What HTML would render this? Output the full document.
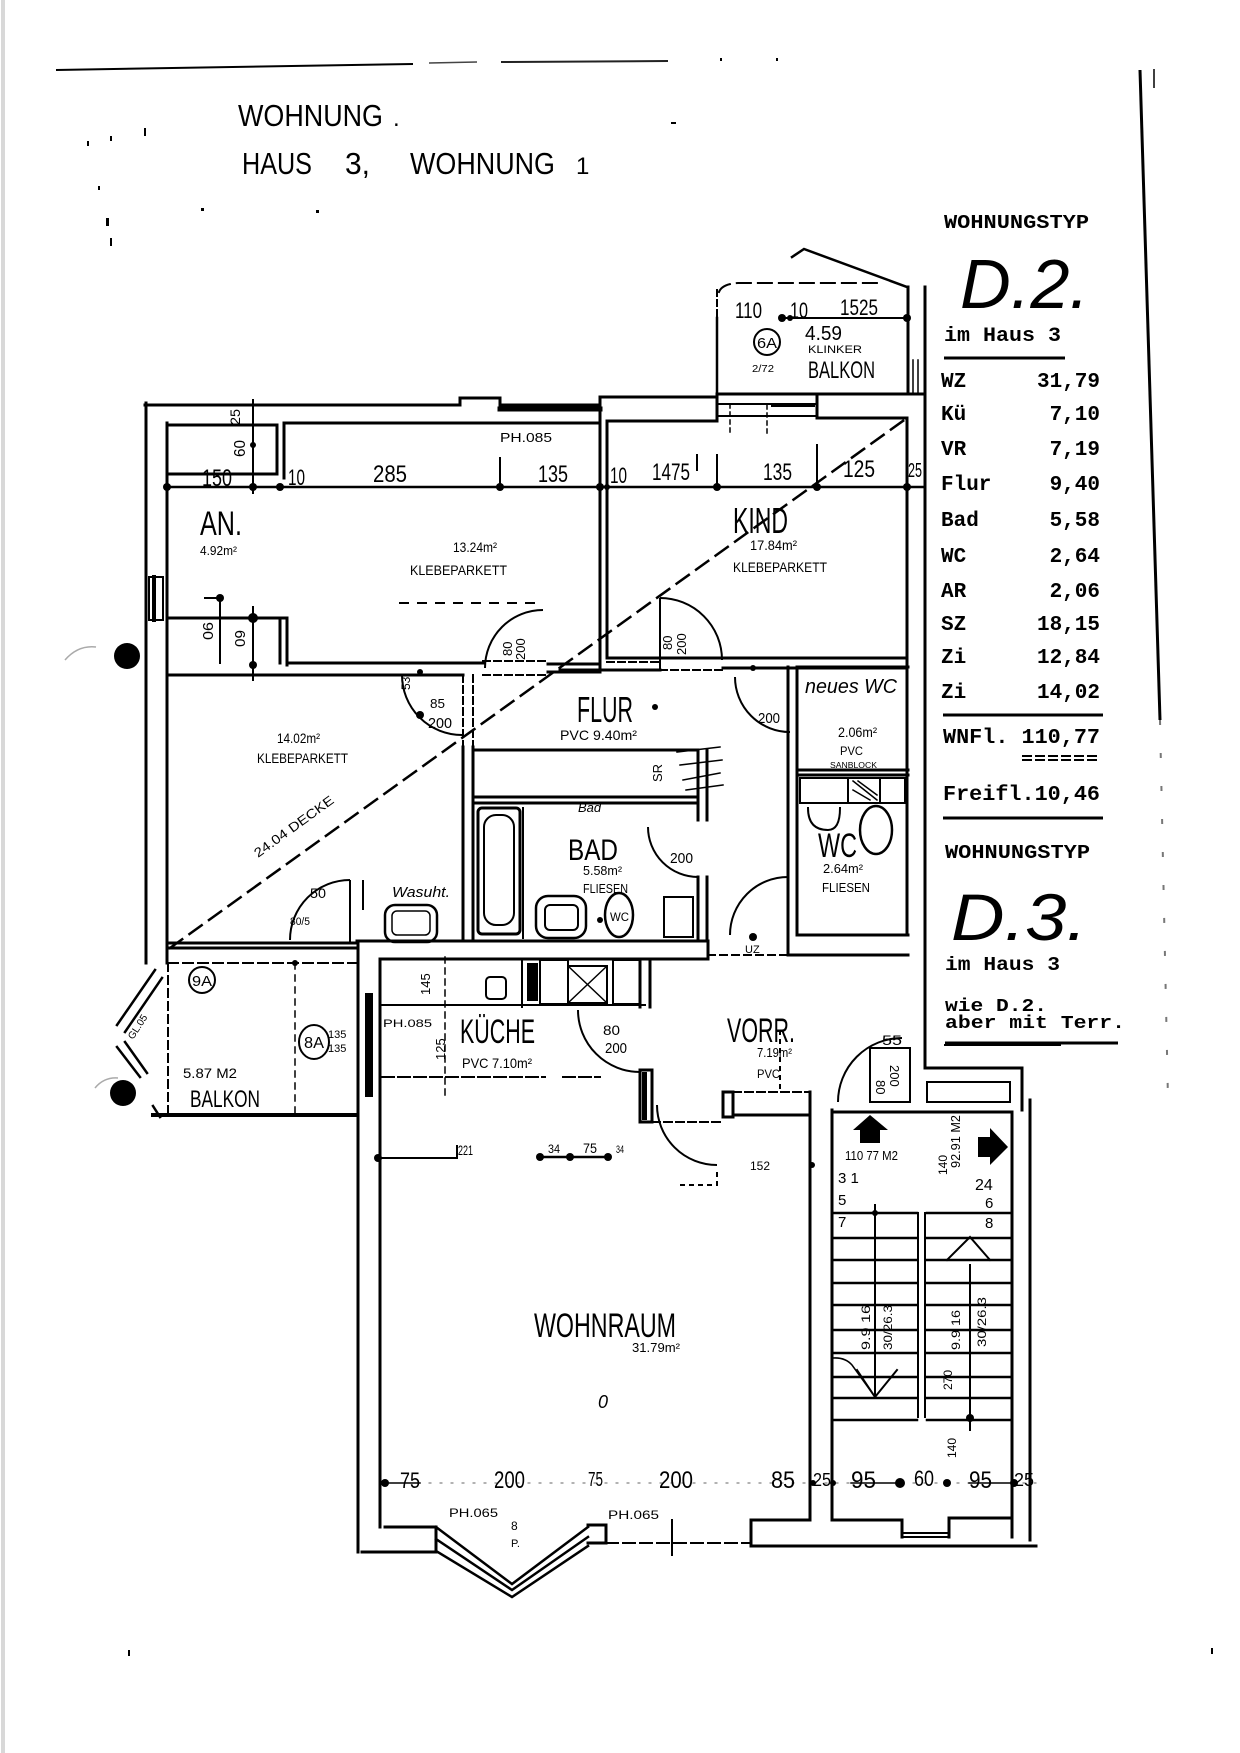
<!DOCTYPE html>
<html><head><meta charset="utf-8"><style>
html,body{margin:0;padding:0;background:#fff;}
svg{display:block}
text{font-family:"Liberation Sans",sans-serif;fill:#000;stroke:none}
.m{font-family:"Liberation Mono",monospace;font-weight:bold}
.hw{font-family:"Liberation Sans",sans-serif;font-weight:normal}
</style></head><body>
<svg width="1240" height="1753" viewBox="0 0 1240 1753" xmlns="http://www.w3.org/2000/svg">
<rect width="1240" height="1753" fill="#fff"/>

<!-- scan artifacts -->
<path d="M3 0 V1753" stroke="#d8d8d8" stroke-width="4"/>
<path d="M65 660 Q78 645 96 647" stroke="#aaa" stroke-width="1.5" fill="none"/>
<path d="M95 1088 Q104 1077 118 1078" stroke="#aaa" stroke-width="1.5" fill="none"/>
<g fill="#000">
<rect x="87" y="141" width="2" height="5"/><rect x="110" y="136" width="2" height="5"/><rect x="144" y="128" width="2" height="8"/>
<rect x="98" y="186" width="2" height="4"/><rect x="201" y="208" width="3" height="3"/><rect x="316" y="210" width="3" height="3"/>
<rect x="106" y="218" width="3" height="8"/><rect x="110" y="238" width="2" height="8"/><rect x="128" y="1650" width="2" height="6"/>
<rect x="1211" y="1648" width="2" height="6"/><rect x="671" y="122" width="5" height="2"/><rect x="720" y="58" width="2" height="3"/><rect x="776" y="58" width="2" height="3"/>
</g>

<!-- header -->
<path d="M56 70 L413 64" stroke="#000" stroke-width="2"/>
<path d="M429 63 L477 62" stroke="#444" stroke-width="1.5"/>
<path d="M501 62 L668 61" stroke="#222" stroke-width="2"/>
<text x="238" y="126" font-size="31" textLength="145" lengthAdjust="spacingAndGlyphs" class="hw">WOHNUNG</text>
<text x="393" y="126" font-size="24">.</text>
<text x="242" y="174" font-size="31" textLength="70" lengthAdjust="spacingAndGlyphs">HAUS</text>
<text x="345" y="174" font-size="31" textLength="25" lengthAdjust="spacingAndGlyphs">3,</text>
<text x="410" y="174" font-size="31" textLength="145" lengthAdjust="spacingAndGlyphs">WOHNUNG</text>
<text x="576" y="174" font-size="24">1</text>

<!-- right column vertical line -->
<path d="M1140 70 L1160 720" stroke="#000" stroke-width="3"/>
<path d="M1154 69 V88" stroke="#000" stroke-width="1.5"/>
<path d="M1160 720 L1168 1100" stroke="#777" stroke-width="2" stroke-dasharray="5 28"/>

<!-- right table -->
<text class="m" x="944" y="228" font-size="19" textLength="145" lengthAdjust="spacingAndGlyphs">WOHNUNGSTYP</text>
<text x="960" y="308" font-size="70" font-style="italic" textLength="129" lengthAdjust="spacingAndGlyphs">D.2.</text>
<text class="m" x="944" y="341" font-size="20" textLength="117" lengthAdjust="spacingAndGlyphs">im Haus 3</text>
<path d="M944 358 H1065" stroke="#000" stroke-width="3"/>
<g class="m" font-size="21">
<text class="m" x="941" y="387">WZ</text><text class="m" x="1100" y="387" text-anchor="end">31,79</text>
<text class="m" x="941" y="420">Kü</text><text class="m" x="1100" y="420" text-anchor="end">7,10</text>
<text class="m" x="941" y="455">VR</text><text class="m" x="1100" y="455" text-anchor="end">7,19</text>
<text class="m" x="941" y="490">Flur</text><text class="m" x="1100" y="490" text-anchor="end">9,40</text>
<text class="m" x="941" y="526">Bad</text><text class="m" x="1100" y="526" text-anchor="end">5,58</text>
<text class="m" x="941" y="562">WC</text><text class="m" x="1100" y="562" text-anchor="end">2,64</text>
<text class="m" x="941" y="597">AR</text><text class="m" x="1100" y="597" text-anchor="end">2,06</text>
<text class="m" x="941" y="630">SZ</text><text class="m" x="1100" y="630" text-anchor="end">18,15</text>
<text class="m" x="941" y="663">Zi</text><text class="m" x="1100" y="663" text-anchor="end">12,84</text>
<text class="m" x="941" y="698">Zi</text><text class="m" x="1100" y="698" text-anchor="end">14,02</text>
</g>
<path d="M943 715 H1103" stroke="#000" stroke-width="3"/>
<text class="m" x="943" y="743" font-size="21" textLength="157" lengthAdjust="spacingAndGlyphs">WNFl. 110,77</text>
<path d="M1022 756 H1100 M1022 760 H1100" stroke="#000" stroke-width="2" stroke-dasharray="10 3"/>
<text class="m" x="943" y="800" font-size="21" textLength="157" lengthAdjust="spacingAndGlyphs">Freifl.10,46</text>
<path d="M943 818 H1103" stroke="#000" stroke-width="3"/>
<text class="m" x="945" y="858" font-size="19" textLength="145" lengthAdjust="spacingAndGlyphs">WOHNUNGSTYP</text>
<text x="951" y="940" font-size="66" font-style="italic" textLength="136" lengthAdjust="spacingAndGlyphs">D.3.</text>
<text class="m" x="945" y="970" font-size="19" textLength="115" lengthAdjust="spacingAndGlyphs">im Haus 3</text>
<text class="m" x="945" y="1011" font-size="18" textLength="102" lengthAdjust="spacingAndGlyphs">wie D.2.</text>
<text class="m" x="945" y="1028" font-size="18" textLength="180" lengthAdjust="spacingAndGlyphs">aber mit Terr.</text>
<path d="M945 1043 H1118" stroke="#000" stroke-width="3"/>

<!-- ===== PLAN WALLS ===== -->
<g stroke="#000" fill="none" stroke-width="3" stroke-linecap="square">
<path d="M146 403 V963"/>
<path d="M167 423 V963"/>
<path d="M145 405 H460 V398 H500 V405 H600"/>
<path d="M500 409 H600" stroke-width="5"/>
<path d="M600 397 H717 V421 H607"/>
<path d="M600 397 V670"/>
<path d="M607 421 V658"/>
<path d="M167 425 H277 V474 H167"/>
<path d="M284 423 V478"/>
<path d="M284 423 H600"/>
<path d="M165 487 H923" stroke-width="2.5"/>
<path d="M253 400 V493 M500 458 V487 M717 455 V487 M817 445 V487 M697 455 V470" stroke-width="2"/>
<rect x="149" y="577" width="14" height="43" stroke-width="2"/>
<path d="M154 577 V620" stroke-width="4"/>
<path d="M167 618 H287 V665"/>
<path d="M280 618 V663"/>
<path d="M220 598 V663 M253 607 V680" stroke-width="2"/>
<path d="M205 598 H220" stroke-width="2"/>
<path d="M287 663 H483"/>
<path d="M168 675 H463"/>
<path d="M483 661 H548 M483 675 H548" stroke-width="2" stroke-dasharray="7 4"/>
<path d="M548 664 H600 M548 672 H600"/>
<path d="M607 658 H907"/>
<path d="M560 670 H660"/>
<path d="M723 668 H907"/>
<path d="M660 670 H723 M607 662 H660" stroke-width="2" stroke-dasharray="7 4"/>
<path d="M908 287 V394"/>
<path d="M907 418 V935"/>
<path d="M925 287 V1068"/>
<path d="M913 360 V392 M918 360 V392" stroke-width="1.5"/>
<path d="M717 318 V393" stroke-width="2.5"/>
<path d="M717 290 V316" stroke-width="2" stroke-dasharray="6 4"/>
<path d="M717 394 H923"/>
<path d="M719 292 Q722 284 738 283 H880" stroke-width="2" stroke-dasharray="14 7"/>
<path d="M792 257 L804 249 L907 287" stroke-width="2.5"/>
<path d="M782 318 H907" stroke-width="2"/>
<path d="M717 404 H817 M717 416 H817" stroke-width="2"/>
<path d="M773 405 H813" stroke-width="4"/>
<path d="M730 404 V433 M767 405 V433" stroke-width="1.5" stroke-dasharray="4 4"/>
<path d="M817 394 V418 H907"/>
<path d="M463 675 V747 M473 675 V747" stroke-width="2" stroke-dasharray="7 4"/>
<path d="M463 747 V941"/>
<path d="M473 747 V940"/>
<path d="M473 750 H698 M473 797 H698"/>
<path d="M698 750 V820 M707 750 V820 M698 877 V941 M707 877 V941"/>
<path d="M473 803 H698"/>
<path d="M357 941 H708"/>
<path d="M380 959 H708"/>
<path d="M708 941 V959"/>
<path d="M708 955 H788" stroke-width="2" stroke-dasharray="7 5"/>
<rect x="478" y="808" width="42" height="126" rx="4"/>
<rect x="484" y="815" width="30" height="110" rx="12" stroke-width="2"/>
<path d="M523 808 V938" stroke-width="2"/>
<rect x="536" y="896" width="50" height="42" rx="12" stroke-width="2.5"/>
<rect x="545" y="905" width="33" height="25" rx="5" stroke-width="2"/>
<ellipse cx="619" cy="915" rx="14" ry="22" stroke-width="2.5"/>
<rect x="664" y="897" width="29" height="40" stroke-width="2"/>
<path d="M677 752 L720 747 M680 765 L722 760 M683 780 L720 773 M686 790 L723 785" stroke-width="1.5"/>
<path d="M788 667 V955"/>
<path d="M797 667 V935"/>
<path d="M797 667 H908 M797 770 H908 M797 775 H908 M797 935 H908"/>
<path d="M788 955 H908"/>
<rect x="800" y="778" width="105" height="25" stroke-width="2"/>
<path d="M848 778 V803 M880 778 V803" stroke-width="2"/>
<path d="M853 781 L877 800 M858 781 L877 795 M853 790 L870 800" stroke-width="1.5"/>
<ellipse cx="876" cy="830" rx="16" ry="24" stroke-width="2.5"/>
<path d="M808 808 Q808 830 828 830 Q840 830 840 808" stroke-width="2"/>
<path d="M170 943 H357 M170 948 H357"/>
<path d="M168 963 V1113" stroke-width="2" stroke-dasharray="8 5"/>
<path d="M168 963 H357" stroke-width="2" stroke-dasharray="10 5"/>
<path d="M295 963 V1113" stroke-width="1.5" stroke-dasharray="6 6"/>
<path d="M153 1115 H357" stroke-width="4"/>
<path d="M153 1106 L160 1117" stroke-width="2.5"/>
<path d="M117 1025 L155 970 M125 1032 L162 978" stroke-width="2.5"/>
<path d="M117 1047 L140 1077 M125 1042 L147 1073" stroke-width="2.5"/>
<rect x="385" y="905" width="52" height="37" rx="10" stroke-width="2.5"/>
<rect x="392" y="911" width="38" height="24" rx="5" stroke-width="1.5"/>
<path d="M358 942 V1552"/>
<path d="M380 959 V1527"/>
<path d="M380 959 H645"/>
<path d="M380 1005 H645" stroke-width="2"/>
<path d="M640 959 V1007 M650 959 V1007"/>
<rect x="640" y="1070" width="12" height="52"/>
<path d="M382 1077 H545 M563 1077 H600" stroke-width="2" stroke-dasharray="12 4"/>
<path d="M445 957 V1097" stroke-width="1.5" stroke-dasharray="6 5"/>
<rect x="486" y="977" width="20" height="22" rx="4" stroke-width="2"/>
<path d="M522 960 V1007" stroke-width="2"/>
<rect x="540" y="960" width="28" height="44" stroke-width="2"/>
<rect x="568" y="966" width="39" height="37" stroke-width="2"/>
<path d="M568 966 L607 1003 M607 966 L568 1003" stroke-width="1.5"/>
<rect x="613" y="960" width="27" height="44" stroke-width="2"/>
<path d="M733 1092 H810" stroke-width="2" stroke-dasharray="8 4"/>
<path d="M733 1115 H810"/>
<rect x="723" y="1092" width="10" height="25"/>
<path d="M640 1122 H723" stroke-width="2" stroke-dasharray="8 4"/>
<path d="M810 1092 V1520"/>
<path d="M832 1110 V1520"/>
<path d="M832 1112 H1012"/>
<path d="M925 1068 H1022 V1110"/>
<rect x="927" y="1082" width="83" height="20" stroke-width="2"/>
<path d="M945 1045 H1060" stroke-width="2"/>
<path d="M1012 1112 V1537"/>
<path d="M1030 1100 V1540"/>
<path d="M833 1213 H917 M833 1238 H917 M833 1260 H917 M833 1283 H917 M833 1305 H917 M833 1330 H917 M833 1353 H917 M833 1377 H917 M833 1398 H917 M833 1420 H917" stroke-width="2.5"/>
<path d="M927 1213 H1010 M927 1238 H1010 M927 1260 H1010 M927 1283 H1010 M927 1305 H1010 M927 1330 H1010 M927 1353 H1010 M927 1377 H1010 M927 1398 H1010 M927 1420 H1010" stroke-width="2.5"/>
<path d="M918 1213 V1417 M925 1213 V1417" stroke-width="2"/>
<path d="M875 1205 V1395 M970 1265 V1430" stroke-width="2"/>
<path d="M857 1370 L875 1397 L897 1370 M947 1260 L970 1237 L990 1260" stroke-width="2"/>
<path d="M833 1358 Q845 1357 852 1365 L875 1397" stroke-width="1.5"/>
<path d="M385 1527 H436"/>
<path d="M362 1552 H436"/>
<path d="M436 1527 V1552"/>
<path d="M436 1527 L512 1584 L588 1527" stroke-width="2.5"/>
<path d="M436 1539 L512 1590 L588 1537" stroke-width="2.5"/>
<path d="M436 1551 L512 1597 L588 1546" stroke-width="2.5"/>
<path d="M588 1525 H606 V1543 H588"/>
<path d="M606 1543 H751" stroke-width="2" stroke-dasharray="12 5"/>
<path d="M751 1520 H810"/>
<path d="M751 1520 V1545"/>
<path d="M832 1520 H902 V1537"/>
<path d="M902 1533 H949 M902 1537 H949" stroke-width="2"/>
<path d="M949 1518 V1537 M949 1518 H1012"/>
<path d="M751 1546 H1036" stroke-width="3"/>
<path d="M672 1520 V1555" stroke-width="2"/>
<path d="M385 1483 H1036" stroke-width="1" stroke="#666" stroke-dasharray="2 9"/>
<path d="M385 1483 H420 M851 1483 H900 M969 1483 H1014" stroke-width="1.5"/>
<path d="M378 1158 H457 V1146" stroke-width="2"/>
<path d="M540 1157 H608" stroke-width="2.5"/>
<path d="M170 948 L907 418" stroke-width="2.5" stroke-dasharray="15 9"/>
<path d="M400 603 H540" stroke-width="2" stroke-dasharray="8 10"/>
</g>

<rect x="365" y="993" width="8" height="104" fill="#000"/>
<rect x="527" y="963" width="11" height="38" fill="#000"/>
<rect x="642" y="1072" width="5" height="48" fill="#000"/>

<!-- doors -->
<g stroke="#000" fill="none" stroke-width="2">
<path d="M402 675 A60 60 0 0 0 462 735"/>
<path d="M485 668 A58 58 0 0 1 543 610"/>
<path d="M660 598 A62 62 0 0 1 722 660"/>
<path d="M660 598 V670"/>
<path d="M648 827 A50 50 0 0 0 698 877"/>
<path d="M735 677 A55 55 0 0 0 790 732"/>
<path d="M788 877 A58 58 0 0 0 730 935"/>
<path d="M578 1010 A62 62 0 0 0 640 1072"/>
<path d="M838 1102 A64 64 0 0 1 902 1038"/>
<rect x="870" y="1048" width="40" height="54"/>
<path d="M657 1105 A60 60 0 0 0 717 1165"/>
<path d="M680 1185 H717 V1170" stroke-dasharray="5 4"/>
<path d="M290 940 A60 60 0 0 1 350 880"/>
<path d="M350 880 V942"/>
<path d="M363 880 V910" />
<path d="M780 1030 V1092" stroke-dasharray="5 4"/>
</g>

<!-- dots -->
<g fill="#000">
<circle cx="127" cy="656" r="13"/>
<circle cx="123" cy="1093" r="13"/>
<circle cx="167" cy="487" r="4"/><circle cx="253" cy="487" r="4"/><circle cx="280" cy="487" r="4"/><circle cx="500" cy="487" r="4"/>
<circle cx="600" cy="487" r="4"/><circle cx="607" cy="487" r="3"/><circle cx="717" cy="487" r="4"/><circle cx="817" cy="487" r="4"/><circle cx="907" cy="487" r="4"/>
<circle cx="253" cy="445" r="3"/><circle cx="253" cy="618" r="5"/><circle cx="253" cy="665" r="4"/><circle cx="220" cy="598" r="4"/>
<circle cx="782" cy="318" r="4"/><circle cx="790" cy="318" r="3"/><circle cx="907" cy="318" r="4"/>
<circle cx="420" cy="672" r="3"/><circle cx="420" cy="715" r="4"/>
<circle cx="655" cy="707" r="3"/><circle cx="753" cy="668" r="3"/><circle cx="753" cy="937" r="4"/>
<circle cx="540" cy="1157" r="4"/><circle cx="570" cy="1157" r="4"/><circle cx="608" cy="1157" r="4"/>
<circle cx="385" cy="1483" r="4"/><circle cx="813" cy="1483" r="3"/><circle cx="833" cy="1483" r="3"/><circle cx="900" cy="1483" r="5"/><circle cx="947" cy="1483" r="4"/><circle cx="1014" cy="1483" r="4"/>
<circle cx="295" cy="963" r="3"/><circle cx="600" cy="920" r="3"/>
<circle cx="875" cy="1213" r="3"/><circle cx="970" cy="1418" r="4"/>
<circle cx="812" cy="1165" r="3"/><circle cx="378" cy="1158" r="4"/>
</g>

<polygon points="870,1115 888,1130 880,1130 880,1143 860,1143 860,1130 853,1130" fill="#000"/>
<polygon points="1008,1147 990,1128 990,1137 978,1137 978,1157 990,1157 990,1165" fill="#000"/>

<g stroke="#000" fill="none" stroke-width="2">
<circle cx="767" cy="342" r="13"/>
<circle cx="202" cy="980" r="13"/>
<ellipse cx="314" cy="1042" rx="15" ry="17"/>
</g>
<text x="757" y="348" font-size="15" textLength="20" lengthAdjust="spacingAndGlyphs">6A</text>
<text x="192" y="986" font-size="15" textLength="20" lengthAdjust="spacingAndGlyphs">9A</text>
<text x="304" y="1048" font-size="16" textLength="20" lengthAdjust="spacingAndGlyphs">8A</text>

<!-- room labels -->
<text x="200" y="535" font-size="34" textLength="42" lengthAdjust="spacingAndGlyphs">AN.</text>
<text x="200" y="555" font-size="13" textLength="37" lengthAdjust="spacingAndGlyphs">4.92m²</text>
<text x="453" y="552" font-size="14" textLength="44" lengthAdjust="spacingAndGlyphs">13.24m²</text>
<text x="410" y="575" font-size="14" textLength="97" lengthAdjust="spacingAndGlyphs">KLEBEPARKETT</text>
<text x="733" y="533" font-size="36" textLength="55" lengthAdjust="spacingAndGlyphs">KIND</text>
<text x="750" y="550" font-size="14" textLength="47" lengthAdjust="spacingAndGlyphs">17.84m²</text>
<text x="733" y="572" font-size="14" textLength="94" lengthAdjust="spacingAndGlyphs">KLEBEPARKETT</text>
<text x="277" y="743" font-size="14" textLength="43" lengthAdjust="spacingAndGlyphs">14.02m²</text>
<text x="257" y="763" font-size="14" textLength="91" lengthAdjust="spacingAndGlyphs">KLEBEPARKETT</text>
<text x="577" y="722" font-size="36" textLength="56" lengthAdjust="spacingAndGlyphs">FLUR</text>
<text x="560" y="740" font-size="14" textLength="77" lengthAdjust="spacingAndGlyphs">PVC   9.40m²</text>
<text x="568" y="860" font-size="30" textLength="50" lengthAdjust="spacingAndGlyphs">BAD</text>
<text x="583" y="875" font-size="13" textLength="39" lengthAdjust="spacingAndGlyphs">5.58m²</text>
<text x="583" y="893" font-size="13" textLength="45" lengthAdjust="spacingAndGlyphs">FLIESEN</text>
<text x="610" y="921" font-size="12" textLength="19" lengthAdjust="spacingAndGlyphs">WC</text>
<text x="805" y="693" font-size="20" font-style="italic" textLength="92" lengthAdjust="spacingAndGlyphs">neues WC</text>
<text x="838" y="737" font-size="14" textLength="39" lengthAdjust="spacingAndGlyphs">2.06m²</text>
<text x="840" y="755" font-size="12" textLength="23" lengthAdjust="spacingAndGlyphs">PVC</text>
<text x="830" y="768" font-size="8" textLength="47" lengthAdjust="spacingAndGlyphs">SANBLOCK</text>
<text x="818" y="857" font-size="34" textLength="39" lengthAdjust="spacingAndGlyphs">WC</text>
<text x="823" y="873" font-size="13" textLength="40" lengthAdjust="spacingAndGlyphs">2.64m²</text>
<text x="822" y="892" font-size="13" textLength="48" lengthAdjust="spacingAndGlyphs">FLIESEN</text>
<text x="460" y="1043" font-size="34" textLength="75" lengthAdjust="spacingAndGlyphs">KÜCHE</text>
<text x="462" y="1068" font-size="14" textLength="70" lengthAdjust="spacingAndGlyphs">PVC  7.10m²</text>
<text x="383" y="1027" font-size="11" textLength="49" lengthAdjust="spacingAndGlyphs">PH.085</text>
<text x="727" y="1042" font-size="34" textLength="68" lengthAdjust="spacingAndGlyphs">VORR.</text>
<text x="757" y="1057" font-size="13" textLength="35" lengthAdjust="spacingAndGlyphs">7.19m²</text>
<text x="757" y="1078" font-size="12" textLength="23" lengthAdjust="spacingAndGlyphs">PVC</text>
<text x="534" y="1337" font-size="34" textLength="142" lengthAdjust="spacingAndGlyphs">WOHNRAUM</text>
<text x="632" y="1352" font-size="13" textLength="48" lengthAdjust="spacingAndGlyphs">31.79m²</text>
<text x="598" y="1408" font-size="18" font-style="italic">0</text>
<text x="183" y="1078" font-size="14" textLength="54" lengthAdjust="spacingAndGlyphs">5.87 M2</text>
<text x="190" y="1107" font-size="24" textLength="70" lengthAdjust="spacingAndGlyphs">BALKON</text>
<text x="808" y="378" font-size="24" textLength="67" lengthAdjust="spacingAndGlyphs">BALKON</text>
<text x="805" y="340" font-size="20" textLength="37" lengthAdjust="spacingAndGlyphs">4.59</text>
<text x="808" y="353" font-size="11" textLength="54" lengthAdjust="spacingAndGlyphs">KLINKER</text>
<text x="735" y="318" font-size="22" textLength="27" lengthAdjust="spacingAndGlyphs">110</text>
<text x="790" y="318" font-size="22" textLength="18" lengthAdjust="spacingAndGlyphs">10</text>
<text x="840" y="315" font-size="22" textLength="38" lengthAdjust="spacingAndGlyphs">1525</text>
<text x="752" y="372" font-size="10" textLength="22" lengthAdjust="spacingAndGlyphs">2/72</text>
<text x="392" y="897" font-size="15" font-style="italic" textLength="58" lengthAdjust="spacingAndGlyphs">Wasuht.</text>

<!-- top dimension numbers -->
<text x="202" y="486" font-size="24" textLength="30" lengthAdjust="spacingAndGlyphs">150</text>
<text x="288" y="485" font-size="22" textLength="17" lengthAdjust="spacingAndGlyphs">10</text>
<text x="373" y="482" font-size="24" textLength="34" lengthAdjust="spacingAndGlyphs">285</text>
<text x="538" y="482" font-size="24" textLength="30" lengthAdjust="spacingAndGlyphs">135</text>
<text x="610" y="483" font-size="22" textLength="17" lengthAdjust="spacingAndGlyphs">10</text>
<text x="652" y="480" font-size="24" textLength="38" lengthAdjust="spacingAndGlyphs">1475</text>
<text x="763" y="480" font-size="24" textLength="29" lengthAdjust="spacingAndGlyphs">135</text>
<text x="843" y="477" font-size="24" textLength="32" lengthAdjust="spacingAndGlyphs">125</text>
<text x="908" y="477" font-size="20" textLength="14" lengthAdjust="spacingAndGlyphs">25</text>
<text x="500" y="442" font-size="13" textLength="52" lengthAdjust="spacingAndGlyphs">PH.085</text>
<text transform="translate(245,457) rotate(-90)" font-size="16" textLength="17" lengthAdjust="spacingAndGlyphs">60</text>
<text transform="translate(240,425) rotate(-90)" font-size="14" textLength="16" lengthAdjust="spacingAndGlyphs">25</text>
<text transform="translate(203,622) rotate(90)" font-size="15" textLength="18" lengthAdjust="spacingAndGlyphs">90</text>
<text transform="translate(235,630) rotate(90)" font-size="15" textLength="17" lengthAdjust="spacingAndGlyphs">60</text>

<!-- door numbers -->
<text x="430" y="708" font-size="13" textLength="15" lengthAdjust="spacingAndGlyphs">85</text>
<text x="428" y="728" font-size="15" textLength="24" lengthAdjust="spacingAndGlyphs">200</text>
<text transform="translate(410,690) rotate(-90)" font-size="12">53</text>
<text transform="translate(512,656) rotate(-90)" font-size="13">80</text>
<text transform="translate(525,660) rotate(-90)" font-size="13">200</text>
<text transform="translate(672,650) rotate(-90)" font-size="13">80</text>
<text transform="translate(686,655) rotate(-90)" font-size="13">200</text>
<text x="758" y="723" font-size="15" textLength="22" lengthAdjust="spacingAndGlyphs">200</text>
<text x="670" y="863" font-size="15" textLength="23" lengthAdjust="spacingAndGlyphs">200</text>
<text x="603" y="1035" font-size="14" textLength="17" lengthAdjust="spacingAndGlyphs">80</text>
<text x="605" y="1053" font-size="15" textLength="22" lengthAdjust="spacingAndGlyphs">200</text>
<text x="882" y="1045" font-size="14" textLength="20" lengthAdjust="spacingAndGlyphs">55</text>
<text transform="translate(876,1080) rotate(90)" font-size="13">80</text>
<text transform="translate(890,1065) rotate(90)" font-size="13">200</text>
<text x="310" y="898" font-size="14" textLength="16" lengthAdjust="spacingAndGlyphs">50</text>
<text x="290" y="925" font-size="11" textLength="20" lengthAdjust="spacingAndGlyphs">80/5</text>
<text transform="translate(430,995) rotate(-90)" font-size="13">145</text>
<text transform="translate(445,1060) rotate(-90)" font-size="13">125</text>
<text x="328" y="1038" font-size="11">135</text>
<text x="328" y="1052" font-size="11">135</text>
<text transform="translate(133,1040) rotate(-57)" font-size="10">GL.05</text>
<text x="648" y="782" font-size="13" transform="rotate(-90 655 775)">SR</text>
<text transform="translate(258,858) rotate(-36)" font-size="13" textLength="95" lengthAdjust="spacingAndGlyphs">24.04   DECKE</text>
<text x="745" y="953" font-size="11">UZ</text>
<text x="578" y="812" font-size="13" font-style="italic">Bad</text>

<text x="458" y="1155" font-size="14" textLength="15" lengthAdjust="spacingAndGlyphs">221</text>
<text x="548" y="1153" font-size="12" textLength="12" lengthAdjust="spacingAndGlyphs">34</text>
<text x="583" y="1153" font-size="14" textLength="14" lengthAdjust="spacingAndGlyphs">75</text>
<text x="616" y="1153" font-size="11" textLength="8" lengthAdjust="spacingAndGlyphs">34</text>
<text x="750" y="1170" font-size="12">152</text>

<!-- stairs texts -->
<text x="845" y="1160" font-size="13" textLength="53" lengthAdjust="spacingAndGlyphs">110 77 M2</text>
<text x="838" y="1183" font-size="15">3 1</text>
<text x="838" y="1205" font-size="15">5</text>
<text x="838" y="1227" font-size="15">7</text>
<text x="975" y="1190" font-size="16">24</text>
<text x="985" y="1208" font-size="15">6</text>
<text x="985" y="1228" font-size="15">8</text>
<text transform="translate(960,1168) rotate(-90)" font-size="13" textLength="53" lengthAdjust="spacingAndGlyphs">92.91 M2</text>
<text transform="translate(947,1175) rotate(-90)" font-size="12">140</text>
<text transform="translate(870,1350) rotate(-90)" font-size="12" textLength="45" lengthAdjust="spacingAndGlyphs">9.9 16</text>
<text transform="translate(892,1350) rotate(-90)" font-size="12" textLength="45" lengthAdjust="spacingAndGlyphs">30/26.3</text>
<text transform="translate(960,1350) rotate(-90)" font-size="12" textLength="40" lengthAdjust="spacingAndGlyphs">9.9 16</text>
<text transform="translate(986,1347) rotate(-90)" font-size="12" textLength="50" lengthAdjust="spacingAndGlyphs">30/26.3</text>
<text transform="translate(952,1390) rotate(-90)" font-size="12">270</text>
<text transform="translate(956,1458) rotate(-90)" font-size="12">140</text>

<!-- bottom dimension numbers -->
<text x="400" y="1488" font-size="22" textLength="20" lengthAdjust="spacingAndGlyphs">75</text>
<text x="494" y="1488" font-size="24" textLength="31" lengthAdjust="spacingAndGlyphs">200</text>
<text x="588" y="1486" font-size="20" textLength="15" lengthAdjust="spacingAndGlyphs">75</text>
<text x="659" y="1488" font-size="24" textLength="34" lengthAdjust="spacingAndGlyphs">200</text>
<text x="771" y="1488" font-size="24" textLength="24" lengthAdjust="spacingAndGlyphs">85</text>
<text x="813" y="1486" font-size="18" textLength="18" lengthAdjust="spacingAndGlyphs">25</text>
<text x="851" y="1488" font-size="24" textLength="25" lengthAdjust="spacingAndGlyphs">95</text>
<text x="914" y="1486" font-size="22" textLength="20" lengthAdjust="spacingAndGlyphs">60</text>
<text x="969" y="1488" font-size="24" textLength="23" lengthAdjust="spacingAndGlyphs">95</text>
<text x="1014" y="1486" font-size="18" textLength="20" lengthAdjust="spacingAndGlyphs">25</text>
<text x="449" y="1517" font-size="12" textLength="49" lengthAdjust="spacingAndGlyphs">PH.065</text>
<text x="608" y="1519" font-size="12" textLength="51" lengthAdjust="spacingAndGlyphs">PH.065</text>
<text x="511" y="1530" font-size="12">8</text>
<text x="511" y="1547" font-size="11">P.</text>
</svg>
</body></html>
